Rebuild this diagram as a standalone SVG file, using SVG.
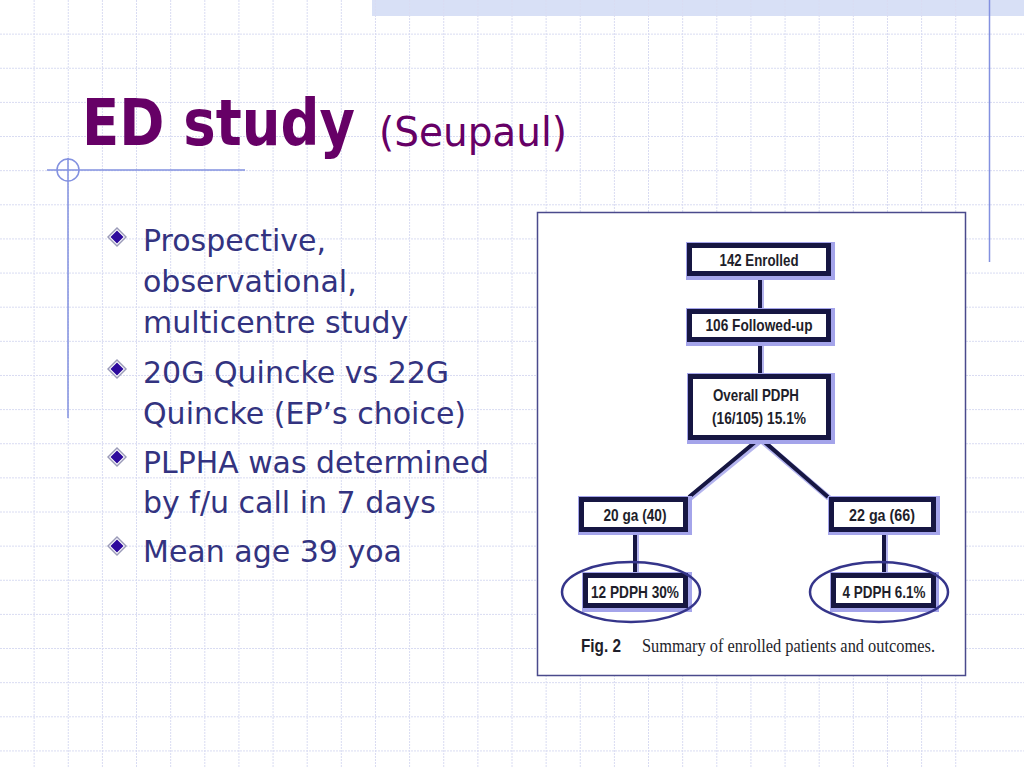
<svg xmlns="http://www.w3.org/2000/svg" width="1024" height="768" viewBox="0 0 1024 768">
<defs>
<style>
.grid{fill:none;stroke:#d9dcf2;stroke-width:1;stroke-dasharray:2,1}
.deco{fill:none;stroke:#8391e0;stroke-width:1.5}
.title{font-family:"DejaVu Sans","Liberation Sans",sans-serif;fill:#660066}
.tb{font-family:"DejaVu Sans Condensed","DejaVu Sans","Liberation Sans",sans-serif;font-weight:bold;fill:#660066}
.bul{font-family:"DejaVu Sans","Liberation Sans",sans-serif;font-size:30px;fill:#333380}
.halo{fill:none;stroke:#a4a4ea;stroke-width:9}
.box{fill:#ffffff;stroke:#161642;stroke-width:5}
.lbl{font-family:"Liberation Sans Narrow","Liberation Sans",sans-serif;font-size:17px;font-weight:bold;fill:#1e1e2a;text-anchor:middle}
.conh{fill:none;stroke:#b4b4ee;stroke-width:6}
.con{fill:none;stroke:#161642;stroke-width:4}
.ell{fill:none;stroke:#35358a;stroke-width:2.5}
</style>
<g id="diamond">
<path d="M0,-10 L10,0 L0,10 L-10,0 Z" fill="#9a9ab8"/>
<path d="M0,-8 L8,0 L0,8 L-8,0 Z" fill="#ffffff"/>
<path d="M0,-6.5 L6.5,0 L0,6.5 L-6.5,0 Z" fill="#2d0a9c"/>
</g>
</defs>
<rect width="1024" height="768" fill="#ffffff"/>
<g id="background">
<rect x="372" y="0" width="652" height="16" fill="#d8e0f6"/>
<path class="grid" d="M34.13,0V768M68.27,0V768M102.4,0V768M136.53,0V768M170.67,0V768M204.8,0V768M238.93,0V768M273.07,0V768M307.2,0V768M341.33,0V768M375.47,0V768M409.6,0V768M443.73,0V768M477.87,0V768M512,0V768M546.13,0V768M580.27,0V768M614.4,0V768M648.53,0V768M682.67,0V768M716.8,0V768M750.93,0V768M785.07,0V768M819.2,0V768M853.33,0V768M887.47,0V768M921.6,0V768M955.73,0V768M0,34.13H1024M0,68.27H1024M0,102.4H1024M0,136.53H1024M0,170.67H1024M0,204.8H1024M0,238.93H1024M0,273.07H1024M0,307.2H1024M0,341.33H1024M0,375.47H1024M0,409.6H1024M0,443.73H1024M0,477.87H1024M0,512H1024M0,546.13H1024M0,580.27H1024M0,614.4H1024M0,648.53H1024M0,682.67H1024M0,716.8H1024M0,750.93H1024"/>
<path class="deco" d="M989.5,0V262"/>
<path class="deco" d="M47,170H245M68,158V418"/>
<circle class="deco" cx="68" cy="170" r="11"/>
</g>
<g id="title">
<text class="tb" x="82" y="145" font-size="64" textLength="273" lengthAdjust="spacingAndGlyphs">ED study</text>
<text class="title" x="379" y="146" font-size="40" textLength="188" lengthAdjust="spacingAndGlyphs">(Seupaul)</text>
</g>
<g id="bullets">
<use href="#diamond" x="117" y="237"/>
<use href="#diamond" x="117" y="369"/>
<use href="#diamond" x="117" y="457"/>
<use href="#diamond" x="117" y="546"/>
<text class="bul" x="143" y="251">Prospective,</text>
<text class="bul" x="143" y="292">observational,</text>
<text class="bul" x="143" y="333">multicentre study</text>
<text class="bul" x="143" y="383">20G Quincke vs 22G</text>
<text class="bul" x="143" y="424">Quincke (EP’s choice)</text>
<text class="bul" x="143" y="473" textLength="346" lengthAdjust="spacingAndGlyphs">PLPHA was determined</text>
<text class="bul" x="143" y="513">by f/u call in 7 days</text>
<text class="bul" x="143" y="562">Mean age 39 yoa</text>
</g>
<g id="figure">
<rect x="537.5" y="212.5" width="428" height="463" fill="#ffffff" stroke="#4a4a8c" stroke-width="1.5"/>
</g>
<g id="connectors">
<path class="conh" d="M761,278V309M761,344V374M761,440L690,498M761,440L829,498M636,534V573M885,534V573"/>
<path class="con" d="M760,276V309M760,342V374M760,438L689,497M760,438L828,497M635,532V573M884,532V573"/>
</g>
<g id="n142">
<rect class="halo" x="690.5" y="246.5" width="140" height="29"/>
<rect class="box" x="689.5" y="245.5" width="139" height="28"/>
<text class="lbl" x="759" y="266" textLength="79" lengthAdjust="spacingAndGlyphs">142 Enrolled</text>
</g>
<g id="n106">
<rect class="halo" x="690.5" y="312.5" width="140" height="29"/>
<rect class="box" x="689.5" y="311.5" width="139" height="28"/>
<text class="lbl" x="759" y="331" textLength="107" lengthAdjust="spacingAndGlyphs">106 Followed-up</text>
</g>
<g id="overall">
<rect class="halo" x="691.5" y="377.5" width="139" height="62"/>
<rect class="box" x="690.5" y="376.5" width="138" height="61"/>
<text class="lbl" x="756" y="401" textLength="86" lengthAdjust="spacingAndGlyphs">Overall PDPH</text>
<text class="lbl" x="759" y="424" textLength="94" lengthAdjust="spacingAndGlyphs">(16/105) 15.1%</text>
</g>
<g id="g20">
<rect class="halo" x="582.5" y="500.5" width="105" height="30"/>
<rect class="box" x="581.5" y="499.5" width="104" height="30"/>
<text class="lbl" x="635" y="521" textLength="63" lengthAdjust="spacingAndGlyphs">20 ga (40)</text>
</g>
<g id="g22">
<rect class="halo" x="832.5" y="500.5" width="103" height="30"/>
<rect class="box" x="831.5" y="499.5" width="102" height="30"/>
<text class="lbl" x="882" y="521" textLength="66" lengthAdjust="spacingAndGlyphs">22 ga (66)</text>
</g>
<g id="p12">
<rect class="halo" x="586.5" y="576.5" width="101" height="31"/>
<rect class="box" x="585.5" y="575.5" width="100" height="30"/>
<text class="lbl" x="635" y="598" textLength="88" lengthAdjust="spacingAndGlyphs">12 PDPH 30%</text>
</g>
<g id="p4">
<rect class="halo" x="834.5" y="576.5" width="100" height="31"/>
<rect class="box" x="833.5" y="575.5" width="100" height="30"/>
<text class="lbl" x="884" y="598" textLength="83" lengthAdjust="spacingAndGlyphs">4 PDPH 6.1%</text>
</g>
<g id="highlights">
<ellipse class="ell" cx="631" cy="592" rx="69" ry="30"/>
<ellipse class="ell" cx="879" cy="592" rx="69" ry="30"/>
</g>
<g id="caption">
<text x="581" y="652" font-family="'Liberation Sans Narrow','Liberation Sans',sans-serif" font-size="18" font-weight="bold" fill="#1e1e2a" textLength="40" lengthAdjust="spacingAndGlyphs">Fig. 2</text>
<text x="642" y="652" font-family="'Liberation Serif',serif" font-size="18" fill="#1e1e2a" textLength="293" lengthAdjust="spacingAndGlyphs">Summary of enrolled patients and outcomes.</text>
</g>
</svg>
